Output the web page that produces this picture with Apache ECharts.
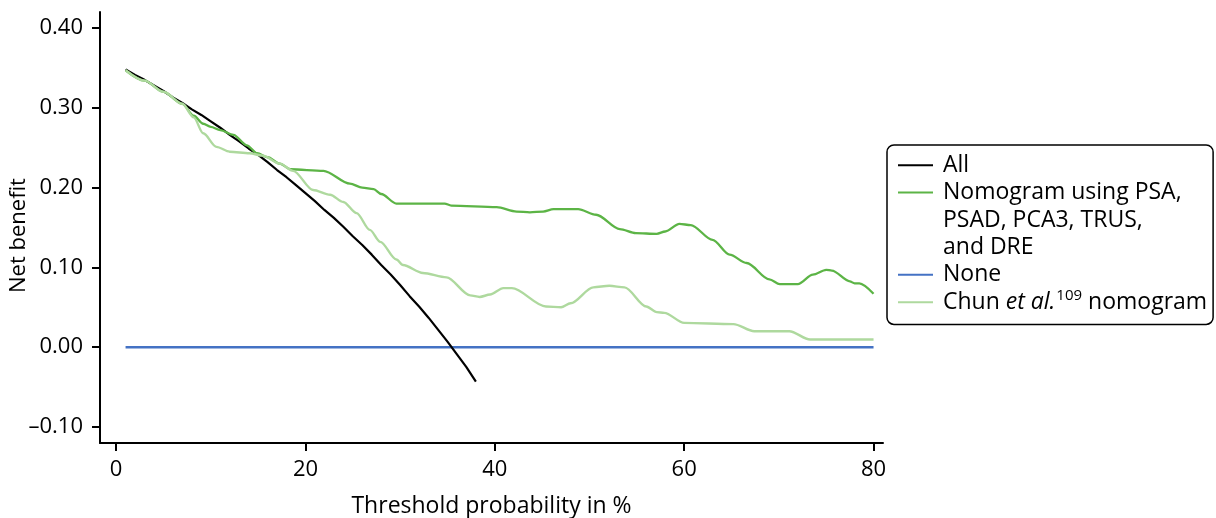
<!DOCTYPE html>
<html>
<head>
<meta charset="utf-8">
<script src="https://cdn.jsdelivr.net/npm/echarts@6/dist/echarts.min.js"></script>
<style>
  html, body { margin: 0; padding: 0; background: #ffffff; }
  #chart { width: 1216px; height: 518px; }
</style>
</head>
<body>
<div id="chart"></div>
<script>
// Decision curve: net benefit against threshold probability (%)
const xTicks = [0, 20, 40, 60, 80];
const yTicks = [-0.1, 0, 0.1, 0.2, 0.3, 0.4];

const nameAll = 'All';
const nameNomogram = 'Nomogram using PSA, PSAD, PCA3, TRUS, and DRE';
const nameNone = 'None';
const nameChun = 'Chun et al. nomogram';

// [threshold %, net benefit]
const allPoints = [
  [1, 0.348], [2, 0.341], [3, 0.335], [4, 0.328], [5, 0.321], [6, 0.313], [7, 0.306],
  [8, 0.298], [9, 0.291], [10, 0.283], [11, 0.275], [12, 0.266], [13, 0.258], [14, 0.249],
  [15, 0.241], [16, 0.232], [17, 0.222], [18, 0.213], [19, 0.203], [20, 0.193], [21, 0.183],
  [22, 0.172], [23, 0.162], [24, 0.151], [25, 0.139], [26, 0.128], [27, 0.116], [28, 0.103],
  [29, 0.091], [30, 0.078], [31, 0.064], [32, 0.051], [33, 0.037], [34, 0.022], [35, 0.007],
  [36, -0.009], [37, -0.025], [38, -0.043]
];

const nomogramPoints = [
  [1, 0.347], [3, 0.334], [5, 0.320], [7, 0.305], [8.2, 0.290], [9.2, 0.280], [10, 0.276],
  [11, 0.272], [12.4, 0.266], [13.8, 0.253], [14.9, 0.243], [16, 0.238], [17.3, 0.230],
  [18.4, 0.223], [21.9, 0.221], [24.7, 0.205], [26, 0.200], [27.2, 0.198], [28, 0.192],
  [29.6, 0.180], [34.7, 0.180], [35.4, 0.1775], [40.2, 0.1755], [42.3, 0.170], [43.7, 0.169],
  [45.1, 0.170], [46.2, 0.173], [48.8, 0.173], [50.7, 0.166], [53.2, 0.148], [54.9, 0.143],
  [57.1, 0.142], [58, 0.145], [59.5, 0.1545], [60.7, 0.153], [63.0, 0.1345], [64.8, 0.116],
  [66.6, 0.1055], [69.0, 0.085], [70.1, 0.079], [72.0, 0.079], [73.6, 0.091], [75.0, 0.097],
  [75.6, 0.096], [77.5, 0.0825], [78.0, 0.080], [78.5, 0.080], [80, 0.067]
];

const nonePoints = [[1, 0], [80, 0]];

const chunPoints = [
  [1, 0.347], [3, 0.334], [5, 0.320], [7, 0.305], [8.2, 0.288], [9.2, 0.268], [10.6, 0.251],
  [12, 0.245], [14.1, 0.243], [15.5, 0.240], [17.3, 0.230], [18.7, 0.221], [20.8, 0.197],
  [22.6, 0.191], [24, 0.182], [25.4, 0.168], [26.8, 0.147], [27.9, 0.132], [29.6, 0.110],
  [30.3, 0.103], [32.4, 0.093], [34.9, 0.0875], [37.4, 0.065], [38.4, 0.063], [39.5, 0.066],
  [40.9, 0.074], [41.8, 0.074], [45.4, 0.051], [47, 0.050], [48, 0.055], [50.4, 0.075],
  [52.1, 0.077], [53.7, 0.075], [56, 0.051], [57.1, 0.044], [57.9, 0.043], [60, 0.0305],
  [65.2, 0.029], [67.4, 0.020], [71.1, 0.020], [73.3, 0.0096], [80, 0.0096]
];

const FONT = '"Open Sans", "Noto Sans", sans-serif';
const FS_TICK = 22;
const FS_TEXT = 23;
const C_ALL = '#000000';
const C_NOMO = '#5cb446';
const C_NONE = '#4472c4';
const C_CHUN = '#aed99e';

const legendLines = {};
legendLines[nameAll] = '{kAll|}{gap|}{t|All}';
legendLines[nameNomogram] = '{kNomo|}{gap|}{t|Nomogram using PSA,}\n{sp|}{gap|}{t|PSAD, PCA3, TRUS,}\n{sp|}{gap|}{t|and DRE}';
legendLines[nameNone] = '{kNone|}{gap|}{t|None}';
legendLines[nameChun] = '{kChun|}{gap|}{t|Chun }{i|et al.}{sup|109}{t| nomogram}';

const LH = 27.4;
const keyBox = (color) => ({ width: 35, height: 2, backgroundColor: color, lineHeight: LH });

function lineSeries(name, data, color, width, z, smooth) {
  return {
    name: name,
    type: 'line',
    data: data,
    symbol: 'none',
    smooth: smooth,
    smoothMonotone: 'x',
    z: z,
    lineStyle: { color: color, width: width },
    itemStyle: { color: color },
    emphasis: { disabled: true },
    animation: false
  };
}

const chart = echarts.init(document.getElementById('chart'), null, { renderer: 'canvas' });
chart.setOption({
  animation: false,
  backgroundColor: '#ffffff',
  textStyle: { fontFamily: FONT },
  grid: { left: 100, right: 333, top: 12, bottom: 75, containLabel: false, outerBoundsMode: 'none' },
  xAxis: {
    type: 'value',
    min: -1.7,
    max: 81,
    name: 'Threshold probability in %',
    nameLocation: 'middle',
    nameGap: 52,
    nameMoveOverlap: false,
    nameTextStyle: { color: '#000', fontSize: FS_TEXT, fontFamily: FONT },
    splitLine: { show: false },
    axisLine: { show: true, onZero: false, lineStyle: { color: '#000', width: 2 } },
    axisTick: { show: true, inside: false, length: 8, lineStyle: { color: '#000', width: 2 }, customValues: xTicks },
    axisLabel: { color: '#000', fontSize: FS_TICK, fontFamily: FONT, margin: 16, customValues: xTicks }
  },
  yAxis: {
    type: 'value',
    min: -0.12,
    max: 0.42,
    name: 'Net benefit',
    nameLocation: 'middle',
    nameGap: 70,
    nameMoveOverlap: false,
    nameTextStyle: { color: '#000', fontSize: FS_TICK, fontFamily: FONT, padding: [0, 16, 0, 0] },
    splitLine: { show: false },
    axisLine: { show: true, onZero: false, lineStyle: { color: '#000', width: 2 } },
    axisTick: { show: true, inside: false, length: 8, lineStyle: { color: '#000', width: 2 }, customValues: yTicks },
    axisLabel: {
      color: '#000', fontSize: FS_TICK, fontFamily: FONT, margin: 17, customValues: yTicks,
      formatter: (v) => v.toFixed(2).replace('-', '\u2013')
    }
  },
  legend: {
    orient: 'vertical',
    left: 887,
    top: 145,
    padding: [6.5, 6, 8.5, 6],
    itemGap: 0,
    itemWidth: 0,
    itemHeight: 0,
    icon: 'rect',
    selectedMode: false,
    borderColor: '#000',
    borderWidth: 1.5,
    borderRadius: 7,
    backgroundColor: '#ffffff',
    data: [nameAll, nameNomogram, nameNone, nameChun],
    formatter: (name) => legendLines[name],
    textStyle: {
      color: '#000',
      fontFamily: FONT,
      fontSize: FS_TEXT,
      lineHeight: LH,
      rich: {
        t: { color: '#000', fontFamily: FONT, fontSize: FS_TEXT, lineHeight: LH },
        i: { color: '#000', fontFamily: FONT, fontSize: FS_TEXT, lineHeight: LH, fontStyle: 'italic' },
        sup: { color: '#000', fontFamily: FONT, fontSize: 15, lineHeight: LH, verticalAlign: 'top', padding: [0, 0, 0, 1] },
        gap: { width: 10, lineHeight: LH },
        sp: { width: 35, lineHeight: LH },
        kAll: keyBox(C_ALL),
        kNomo: keyBox(C_NOMO),
        kNone: keyBox(C_NONE),
        kChun: keyBox(C_CHUN)
      }
    }
  },
  series: [
    lineSeries(nameNone, nonePoints, C_NONE, 2.4, 2, false),
    lineSeries(nameAll, allPoints, C_ALL, 2.2, 3, false),
    lineSeries(nameNomogram, nomogramPoints, C_NOMO, 2.3, 4, 0.3),
    lineSeries(nameChun, chunPoints, C_CHUN, 2.4, 5, 0.3)
  ]
});
</script>
</body>
</html>
